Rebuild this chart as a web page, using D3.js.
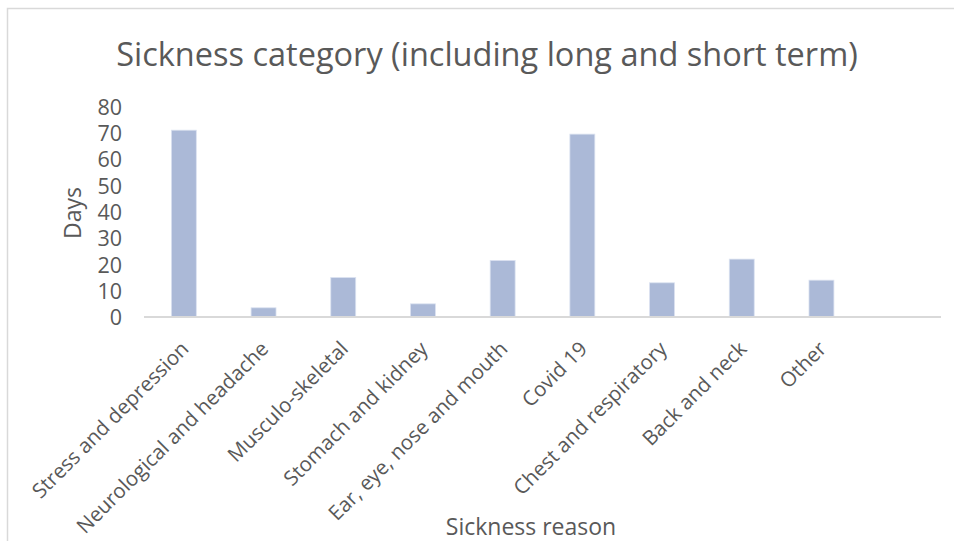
<!DOCTYPE html>
<html><head><meta charset="utf-8">
<script src="https://cdn.jsdelivr.net/npm/d3@7"></script>
<style>body{margin:0;background:#fff}svg{display:block}text{font-family:"Open Sans",sans-serif;fill:#595959}</style>
</head><body>
<svg id="c" width="954" height="541"></svg>
<script>
const categories = ["Stress and depression","Neurological and headache","Musculo-skeletal","Stomach and kidney","Ear, eye, nose and mouth","Covid 19","Chest and respiratory","Back and neck","Other"];
const values = [71, 3.5, 15, 5, 21.5, 69.5, 13, 22, 14];
const yTicks = [0,10,20,30,40,50,60,70,80];
const title = "Sickness category (including long and short term)";
const xTitle = "Sickness reason";
const yTitle = "Days";

const svg = d3.select("#c");
svg.append("rect").attr("x",7.5).attr("y",8.5).attr("width",960).attr("height",560)
  .attr("fill","#fff").attr("stroke","#d9d9d9").attr("stroke-width",1.5);

const x = d3.scaleBand().domain(categories.concat([" "])).range([144,941]).paddingInner(0.687).paddingOuter(0.3435);
const y = d3.scaleLinear().domain([0,80]).range([317,106.5]);

svg.append("g").selectAll("rect").data(values).join("rect")
  .attr("x",(d,i)=>x(categories[i]))
  .attr("y",d=>y(d))
  .attr("width",x.bandwidth())
  .attr("height",d=>y(0)-y(d))
  .attr("fill","#abb9d7").attr("stroke","#dbe2f0").attr("stroke-width",0.8);

svg.append("line").attr("x1",144).attr("x2",941).attr("y1",y(0)).attr("y2",y(0))
  .attr("stroke","#d9d9d9").attr("stroke-width",2);

const yAxis = d3.axisLeft(y).tickValues(yTicks).tickSize(0).tickPadding(0);
const gy = svg.append("g").attr("transform","translate(122,0)").call(yAxis);
gy.select(".domain").remove();
gy.selectAll("text").attr("font-size",21.5).attr("fill","#595959").attr("font-family","'Open Sans',sans-serif").attr("dy","0.36em");

const xAxis = d3.axisBottom(x).tickValues(categories).tickSize(0).tickPadding(0);
const gx = svg.append("g").attr("transform",`translate(0,${y(0)})`).call(xAxis);
gx.select(".domain").remove();
gx.selectAll("text")
  .attr("font-size",20.5).attr("fill","#595959").attr("font-family","'Open Sans',sans-serif")
  .attr("text-anchor","end")
  .attr("transform","translate(-4,23) rotate(-45)")
  .attr("dy","0.7em").attr("y",0).attr("x",0);

svg.append("text").attr("x",487).attr("y",66).attr("text-anchor","middle")
  .attr("font-size",32.5).text(title);
svg.append("text").attr("x",531).attr("y",535).attr("text-anchor","middle")
  .attr("font-size",23).text(xTitle);
svg.append("text").attr("transform","translate(81,213) rotate(-90)").attr("text-anchor","middle")
  .attr("font-size",23).text(yTitle);
</script>
</body></html>
